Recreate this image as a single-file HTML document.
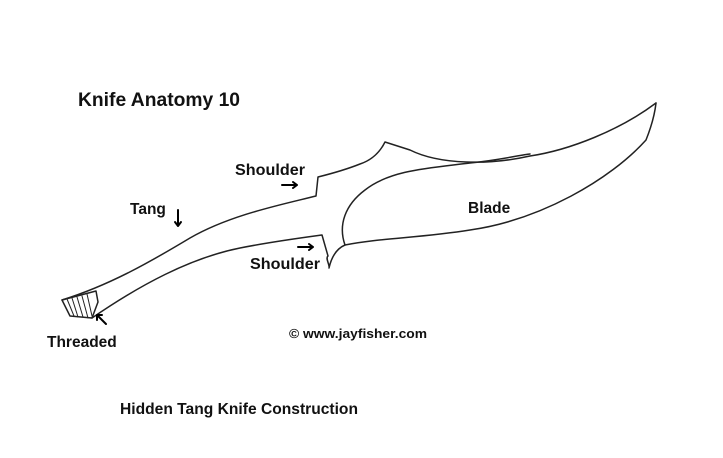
<!DOCTYPE html>
<html><head><meta charset="utf-8"><style>
body{margin:0;background:#fff;}
svg{display:block;}
text{font-family:"Liberation Sans",Arial,sans-serif;font-weight:bold;fill:#111;}
</style></head><body>
<svg width="723" height="458" viewBox="0 0 723 458">
<g fill="none" stroke="#222" stroke-width="1.5" stroke-linecap="round" stroke-linejoin="round">
<path d="M656,103 C620,130 570,150 530,156 C490,165 440,165 410,150 L385,142 C380,152 372,160 360,164 C345,170 330,174 318,177 L316,196 C280,205 230,215 190,238 C150,262 110,285 62,300"/>
<path d="M92,318 C140,285 190,258 240,248 C270,242 300,238 322,235 L328,256 C325,258 330,265 329,268 C332,255 338,248 345,245 C380,238 420,238 470,230 C540,220 610,180 646,140 C652,125 655,112 656,103"/>
<path d="M345,245 C338,225 345,205 365,190 C390,170 430,168 470,163 C500,160 520,155 530,154"/>
<path d="M62,300 L70,316 L92,318 L98,302 L96,291 M62,300 L96,291"/>
<path d="M67,299 L74,316 M72,298 L78,317 M77,297 L83,317 M82,296 L88,318 M87,294 L92,316" stroke-width="1"/>
<g stroke="#000" stroke-width="2">
<path d="M282,185 L297,185 M293,182 L297,185 L293,188"/>
<path d="M178,210 L178,226 M175,222 L178,226 L181,222"/>
<path d="M298,247 L313,247 M309,244 L313,247 L309,250"/>
<path d="M106,324 L97,315 M97,320 L97,315 L102,315"/>
</g>
</g>
<text x="78" y="106" font-size="19" textLength="162" lengthAdjust="spacingAndGlyphs">Knife Anatomy 10</text>
<text x="235" y="175" font-size="15.5" textLength="70" lengthAdjust="spacingAndGlyphs">Shoulder</text>
<text x="130" y="214" font-size="15.5">Tang</text>
<text x="468" y="213" font-size="15.5">Blade</text>
<text x="250" y="269" font-size="15.5" textLength="70" lengthAdjust="spacingAndGlyphs">Shoulder</text>
<text x="47" y="347" font-size="15.5">Threaded</text>
<text x="289" y="338" font-size="12.5" textLength="138" lengthAdjust="spacingAndGlyphs">© www.jayfisher.com</text>
<text x="120" y="414" font-size="15.5" textLength="238" lengthAdjust="spacingAndGlyphs">Hidden Tang Knife Construction</text>
</svg>
</body></html>
